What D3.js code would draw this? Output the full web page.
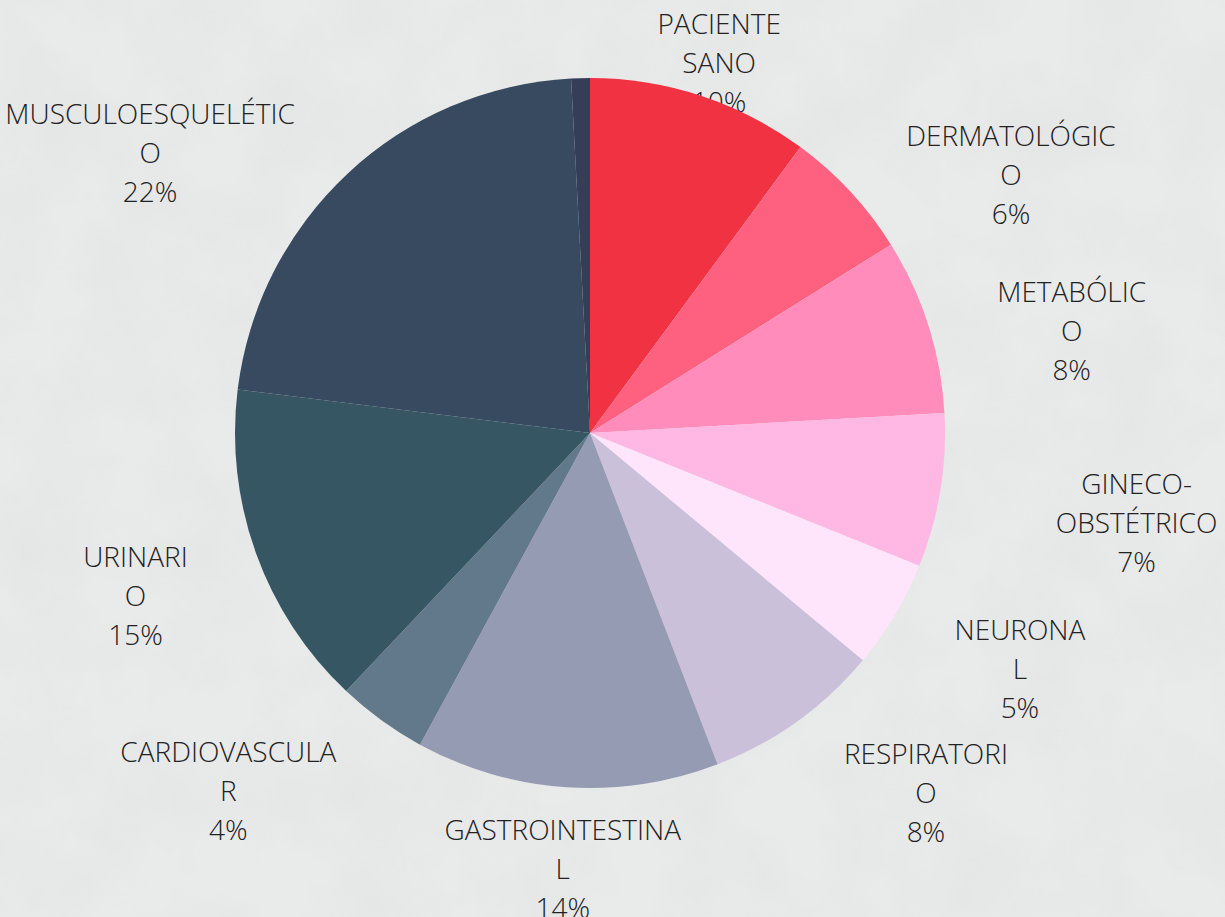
<!DOCTYPE html>
<html>
<head>
<meta charset="utf-8">
<script src="https://cdn.jsdelivr.net/npm/d3@7"></script>
<style>
  html, body { margin: 0; padding: 0; background: #e8e9e9; }
  svg { display: block; }
  .label { font-family: "Open Sans", sans-serif; font-weight: 300; font-size: 28px; fill: #222; }
</style>
</head>
<body>
<svg width="1225" height="917"></svg>
<script>
// categories, clockwise from 12 o'clock
const categories = ['PACIENTE SANO', 'DERMATOLÓGICO', 'METABÓLICO', 'GINECO-OBSTÉTRICO', 'NEURONAL',
  'RESPIRATORIO', 'GASTROINTESTINAL', 'CARDIOVASCULAR', 'URINARIO', 'MUSCULOESQUELÉTICO', 'OTRO'];
// share of patients (%)
const values = [10.1, 6.0, 8.0, 7.0, 4.95, 8.1, 13.8, 4.1, 14.9, 22.2, 0.85];
// how the labels wrap in the original
const labelLines = [
  ['PACIENTE', 'SANO'], ['DERMATOLÓGIC', 'O'], ['METABÓLIC', 'O'], ['GINECO-', 'OBSTÉTRICO'],
  ['NEURONA', 'L'], ['RESPIRATORI', 'O'], ['GASTROINTESTINA', 'L'], ['CARDIOVASCULA', 'R'],
  ['URINARI', 'O'], ['MUSCULOESQUELÉTIC', 'O'], null
];
const colors = ['#f03242', '#fe6080', '#ff8cba', '#ffb8e3', '#ffe5fc', '#cbc0da',
  '#969bb4', '#62788b', '#375664', '#374a5f', '#363d58'];

const svg = d3.select('svg');
const width = 1225, height = 917;
const cx = 590, cy = 433, radius = 355;

// concrete-ish backdrop
const defs = svg.append('defs');
const f = defs.append('filter').attr('id', 'grain').attr('x', 0).attr('y', 0).attr('width', '100%').attr('height', '100%');
f.append('feTurbulence').attr('type', 'fractalNoise').attr('baseFrequency', 0.012).attr('numOctaves', 4).attr('seed', 3).attr('result', 'n');
f.append('feColorMatrix').attr('in', 'n').attr('type', 'matrix')
  .attr('values', '0 0 0 0 0.5  0 0 0 0 0.5  0 0 0 0 0.5  0.35 0 0 0 -0.12');
svg.append('rect').attr('width', width).attr('height', height).attr('fill', '#e9eaea');
svg.append('rect').attr('width', width).attr('height', height).attr('filter', 'url(#grain)').attr('opacity', 0.5);

const data = categories.map((c, i) => ({ name: c, value: values[i], lines: labelLines[i], color: colors[i] }));

const pie = d3.pie().value(d => d.value).sort(null);
const arcs = pie(data);
const arc = d3.arc().innerRadius(0).outerRadius(radius);

const g = svg.append('g').attr('transform', `translate(${cx},${cy})`);

// labels sit underneath the pie
const labelG = g.append('g');
const labelRadius = 414, lineH = 39;
arcs.filter(d => d.data.lines).forEach(d => {
  const mid = (d.startAngle + d.endAngle) / 2;
  const s = Math.sin(mid), c = Math.cos(mid);
  const lines = d.data.lines.concat([Math.round(d.data.value) + '%']);
  // measure the unwrapped name to push side labels outwards
  const probe = labelG.append('text').attr('class', 'label').text(d.data.name);
  const fullW = probe.node().getComputedTextLength();
  probe.remove();
  const shift = Math.abs(s) > 0.45 ? Math.sign(s) * (fullW / 2 + 2) : 0;
  const x = labelRadius * s + shift;
  const y = -labelRadius * c + 23;
  const t = labelG.append('text').attr('class', 'label').attr('text-anchor', 'middle');
  lines.forEach((ln, i) => {
    t.append('tspan').attr('x', x).attr('y', y + (i - (lines.length - 1) / 2) * lineH)
      .attr('dy', '0.36em').text(ln);
  });
});

g.selectAll('path.slice').data(arcs).enter().append('path')
  .attr('class', 'slice')
  .attr('d', arc)
  .attr('fill', d => d.data.color);
</script>
</body>
</html>
